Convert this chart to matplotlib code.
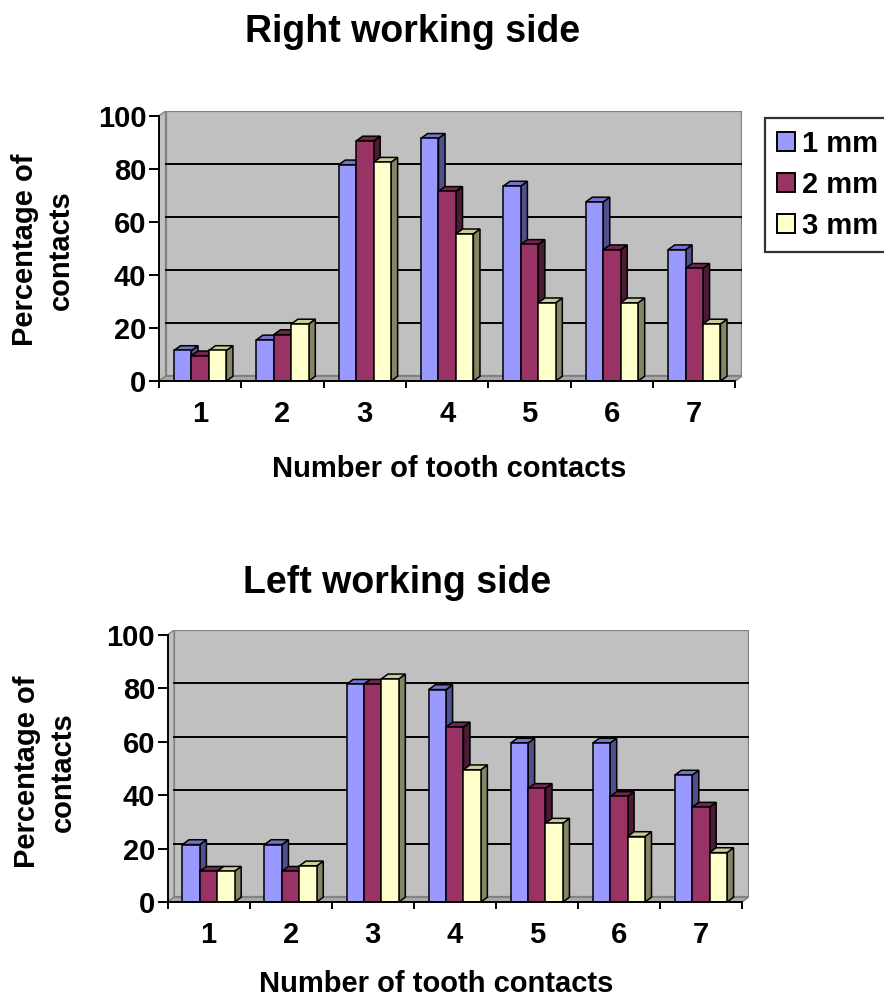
import matplotlib
matplotlib.use("Agg")
import matplotlib.pyplot as plt
from matplotlib.patches import Polygon, Rectangle, Patch

'''
Data read off the picture
'''
categories = ['1', '2', '3', '4', '5', '6', '7']
series_names = ['1 mm', '2 mm', '3 mm']

right_1mm = [11.5, 15.5, 81.5, 91.5, 73.5, 67.5, 49.5]
right_2mm = [9.5, 17.5, 90.5, 71.5, 51.5, 49.5, 42.5]
right_3mm = [11.5, 21.5, 82.5, 55.5, 29.5, 29.5, 21.5]

left_1mm = [21.5, 21.5, 81.5, 79.5, 59.5, 59.5, 47.5]
left_2mm = [11.5, 11.5, 81.5, 65.5, 42.5, 39.5, 35.5]
left_3mm = [11.5, 13.5, 83.5, 49.5, 29.5, 24.5, 18.5]

'''
Style
'''
plt.rcParams['font.family'] = ['Liberation Sans', 'DejaVu Sans']
plt.rcParams['font.weight'] = 'bold'
FS = 21

face = ['#9999FF', '#993366', '#FFFFCC']
top = ['#7373C8', '#73264D', '#CCCC99']
side = ['#50508C', '#4D1A33', '#858566']
WALL = '#C0C0C0'
WALL_EDGE = '#808080'
DX = 0.08    # depth offset, category units
DY = 1.8     # depth offset, value units
W = 0.212    # bar width


def draw_panel(ax, data):
    n = len(categories)
    ax.set_xlim(0, n + DX)
    ax.set_ylim(0, 100 + DY)
    # back wall, left wall, floor
    ax.add_patch(Rectangle((DX, DY), n, 100, fc=WALL, ec=WALL_EDGE, lw=1.6, zorder=0.5))
    ax.add_patch(Polygon([(0, 0), (DX, DY), (DX, 100 + DY), (0, 100)],
                         fc=WALL, ec=WALL_EDGE, lw=1.0, zorder=0.6))
    ax.add_patch(Polygon([(0, 0), (n, 0), (n + DX, DY), (DX, DY)],
                         fc='#A8A8A8', ec=WALL_EDGE, lw=1.0, zorder=0.6))
    for v in range(20, 100, 20):
        ax.plot([DX, n + DX], [v + DY, v + DY], color='black', lw=1.4, zorder=1)

    z = 2
    for i in range(n):
        for j, vals in enumerate(data):
            v = vals[i]
            x0 = i + 0.5 - 1.5 * W + j * W
            ax.add_patch(Polygon([(x0 + W, 0), (x0 + W + DX, DY), (x0 + W + DX, v + DY), (x0 + W, v)],
                                 fc=side[j], ec='black', lw=1.1, zorder=z))
            ax.add_patch(Polygon([(x0, v), (x0 + W, v), (x0 + W + DX, v + DY), (x0 + DX, v + DY)],
                                 fc=top[j], ec='black', lw=1.1, zorder=z))
            ax.add_patch(Rectangle((x0, 0), W, v, fc=face[j], ec='black', lw=1.1, zorder=z + 0.01))
            z += 0.1

    ax.set_facecolor('none')
    for s in ['top', 'right']:
        ax.spines[s].set_visible(False)
    ax.spines['left'].set_bounds(0, 100)
    ax.spines['bottom'].set_bounds(0, n)
    ax.spines['left'].set_linewidth(1.4)
    ax.spines['bottom'].set_linewidth(1.4)
    ax.spines['left'].set_zorder(10)
    ax.spines['bottom'].set_zorder(10)
    ax.set_yticks(range(0, 101, 20))
    ax.tick_params(axis='y', length=7, width=1.4, pad=2, labelsize=FS)
    ax.set_xticks(range(0, n + 1))
    ax.set_xticklabels([])
    ax.set_xticks([i + 0.5 for i in range(n)], minor=True)
    ax.set_xticklabels(categories, minor=True)
    ax.tick_params(axis='x', which='major', length=5, width=1.4)
    ax.tick_params(axis='x', which='minor', length=0, pad=14, labelsize=FS)


fig = plt.figure(figsize=(8.84, 9.98), dpi=100)
H, Wd = 998.0, 884.0

'''
Top: right working side
'''
ax1 = fig.add_axes([159 / Wd, 1 - 381 / H, 583 / Wd, 270 / H])
draw_panel(ax1, [right_1mm, right_2mm, right_3mm])
fig.text(413 / Wd, 1 - 42 / H, 'Right working side', ha='center', va='baseline', fontsize=27)
fig.text(449 / Wd, 1 - 477 / H, 'Number of tooth contacts', ha='center', va='baseline', fontsize=FS)
fig.text(43 / Wd, 1 - 250 / H, 'Percentage of\ncontacts', rotation=90, ha='center', va='center',
         multialignment='center', linespacing=1.35, fontsize=FS)

leg = fig.legend(handles=[Patch(fc=face[j], ec='black', lw=1.4) for j in range(3)],
                 labels=series_names, loc='upper left', bbox_to_anchor=(765 / Wd, 1 - 118 / H),
                 frameon=True, fancybox=False, edgecolor='black', fontsize=FS,
                 handlelength=0.62, handleheight=0.62, handletextpad=0.25,
                 labelspacing=0.45, borderpad=0.4, borderaxespad=0)
leg.get_frame().set_linewidth(1.6)

'''
Bottom: left working side
'''
ax2 = fig.add_axes([167.5 / Wd, 1 - 902 / H, 581 / Wd, 272 / H])
draw_panel(ax2, [left_1mm, left_2mm, left_3mm])
fig.text(397 / Wd, 1 - 593 / H, 'Left working side', ha='center', va='baseline', fontsize=27)
fig.text(436 / Wd, 1 - 992 / H, 'Number of tooth contacts', ha='center', va='baseline', fontsize=FS)
fig.text(45 / Wd, 1 - 772 / H, 'Percentage of\ncontacts', rotation=90, ha='center', va='center',
         multialignment='center', linespacing=1.35, fontsize=FS)

fig.savefig('out.png', dpi=100)
